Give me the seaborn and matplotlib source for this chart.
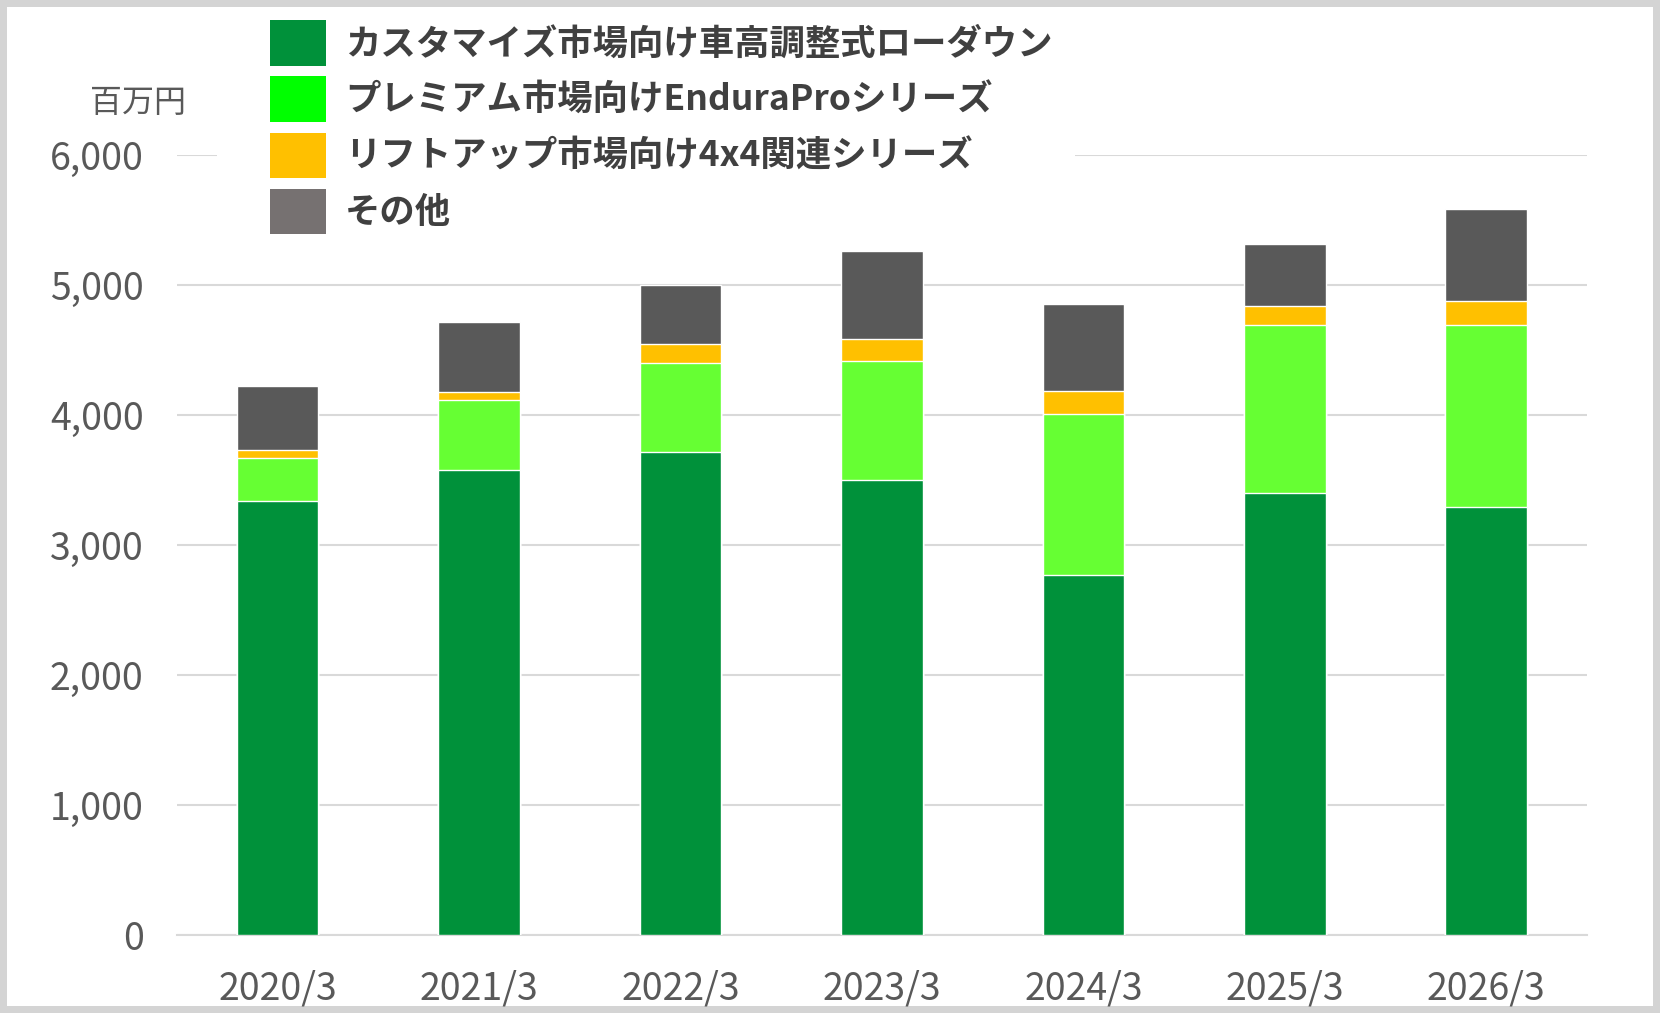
import numpy as np
import pandas as pd
import seaborn as sns
import matplotlib.pyplot as plt
from matplotlib.patches import Patch, Rectangle

sns.set_theme(style="white")
plt.rcParams["font.family"] = ["Noto Sans CJK JP", "DejaVu Sans"]

years = ["2020/3", "2021/3", "2022/3", "2023/3", "2024/3", "2025/3", "2026/3"]
series = [
    "カスタマイズ市場向け車高調整式ローダウン",
    "プレミアム市場向けEnduraProシリーズ",
    "リフトアップ市場向け4x4関連シリーズ",
    "その他",
]
lowdown = [3340, 3575, 3715, 3495, 2770, 3395, 3290]
endurapro = [330, 535, 685, 920, 1235, 1295, 1400]
liftup = [60, 65, 145, 165, 180, 145, 185]
others = [490, 540, 450, 675, 665, 480, 710]

bar_colors = ["#00913A", "#66FF33", "#FFC000", "#595959"]
legend_colors = ["#00913A", "#00FF00", "#FFC000", "#767171"]

df = pd.DataFrame(
    {"year": years, series[0]: lowdown, series[1]: endurapro,
     series[2]: liftup, series[3]: others}
)
stack = df[series].cumsum(axis=1)

fig = plt.figure(figsize=(16.6, 10.13), dpi=100)
ax = fig.add_axes([0.1066, 0.077, 0.8494, 0.7704])

# draw cumulative totals from the top layer down so each covers the one above
for name, color in reversed(list(zip(series, bar_colors))):
    sns.barplot(x=df["year"], y=stack[name], color=color, width=0.405,
                saturation=1, ax=ax, zorder=3)

ax.set_ylim(0, 6000)
ax.set_xlim(-0.5, 6.5)
ax.set_yticks(range(0, 6001, 1000))
ax.yaxis.set_major_formatter(plt.FuncFormatter(lambda v, p: f"{int(v):,}"))
ax.grid(axis="y", color="#D9D9D9", linewidth=1.5, zorder=0)
ax.set_axisbelow(True)
ax.set_xlabel("")
ax.set_ylabel("")
for s in ["top", "right", "left"]:
    ax.spines[s].set_visible(False)
ax.spines["bottom"].set_color("#D9D9D9")
ax.spines["bottom"].set_linewidth(1.5)
ax.tick_params(axis="both", length=0, labelsize=27, labelcolor="#595959")
ax.tick_params(axis="y", pad=24)
ax.tick_params(axis="x", pad=25)

# white block behind the legend hides the top gridline like the original
ax.add_patch(Rectangle((217 / 1660, 1 - 240 / 1013), (1075 - 217) / 1660,
                       110 / 1013, transform=fig.transFigure,
                       facecolor="white", edgecolor="none", zorder=1))

handles = [Patch(facecolor=c, edgecolor="none") for c in legend_colors]
leg = ax.legend(
    handles, series, loc="upper left", bbox_to_anchor=(0.066, 1.172),
    frameon=False, fontsize=25.5, handlelength=1.57, handleheight=1.6,
    handletextpad=0.55, labelspacing=0.3, borderpad=0,
    borderaxespad=0,
)
for t in leg.get_texts():
    t.set_color("#404040")
    t.set_fontweight("bold")

fig.text(0.083, 0.898, "百万円", fontsize=23, color="#595959",
         ha="center", va="center")

fig.patch.set_edgecolor("#D4D4D4")
fig.patch.set_linewidth(10)

fig.savefig("out.png", dpi=100)
